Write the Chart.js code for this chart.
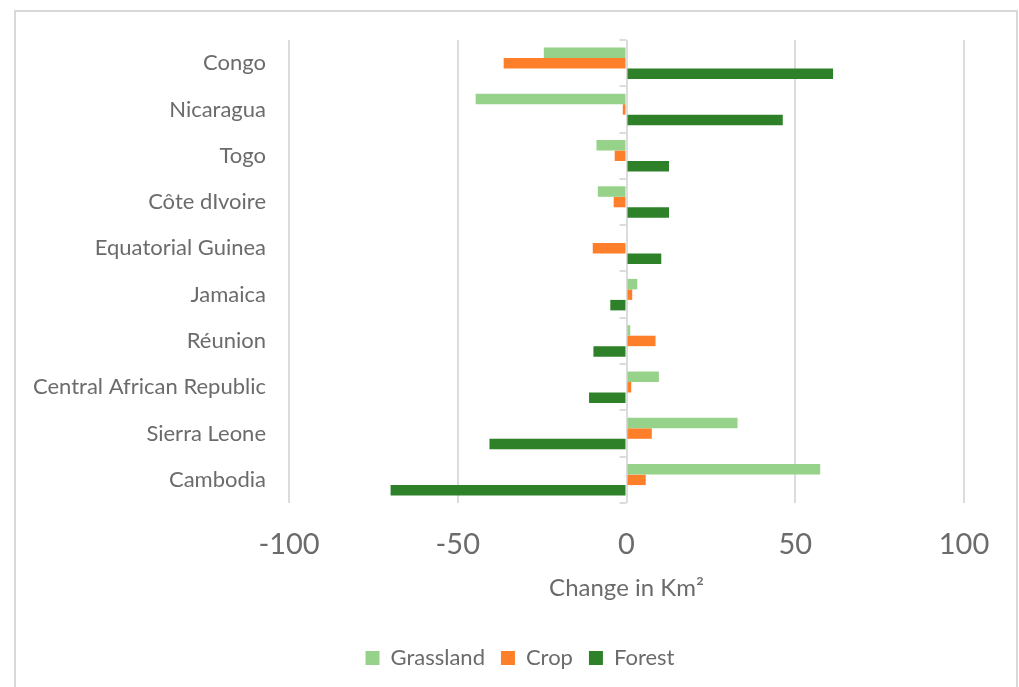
<!DOCTYPE html>
<html>
<head>
<meta charset="utf-8">
<script src="https://cdn.jsdelivr.net/npm/chart.js@4/dist/chart.umd.min.js"></script>
<style>
  html, body { margin: 0; padding: 0; background: #ffffff; }
  #wrap { width: 1019px; height: 687px; position: relative; }
</style>
</head>
<body>
<div id="wrap"><canvas id="chart"></canvas></div>
<script>
// Land cover change per country (km²)
const countries = ['Congo', 'Nicaragua', 'Togo', 'Côte dIvoire', 'Equatorial Guinea',
  'Jamaica', 'Réunion', 'Central African Republic', 'Sierra Leone', 'Cambodia'];
const grassland = [-24.5, -44.7, -8.9, -8.5, 0, 3.2, 1.1, 9.6, 32.9, 57.4];
const crop      = [-36.4, -1.1, -3.5, -3.8, -10.0, 1.7, 8.6, 1.4, 7.5, 5.7];
const forest    = [61.2, 46.3, 12.6, 12.6, 10.3, -4.8, -9.8, -11.1, -40.6, -69.9];
const xTicks    = [-100, -50, 0, 50, 100];

const TEXT = '#6b6b6b';
const GRID = '#dcdcdc';
const FONT = 'Lato, "Liberation Sans", sans-serif';

// White page with a thin grey frame around the chart
const framePlugin = {
  id: 'frame',
  beforeDraw(chart) {
    const ctx = chart.ctx;
    ctx.save();
    ctx.fillStyle = '#ffffff';
    ctx.fillRect(0, 0, chart.width, chart.height);
    ctx.strokeStyle = '#d9d9d9';
    ctx.lineWidth = 2;
    ctx.strokeRect(15, 11, chart.width - 17, chart.height + 20);
    ctx.restore();
  }
};

// Center the legend under the whole frame rather than under the padded area
const legendSpanPlugin = {
  id: 'legendSpan',
  afterLayout(chart) {
    const lg = chart.legend;
    if (!lg) return;
    lg.left = 21;
    lg.right = chart.width;
    lg.width = lg.right - lg.left;
  }
};

// Short tick marks on the zero line between the country bands
const zeroTicksPlugin = {
  id: 'zeroTicks',
  beforeDatasetsDraw(chart) {
    const x = chart.scales.x, y = chart.scales.y;
    const x0 = x.getPixelForValue(0);
    const n = countries.length;
    const band = (y.getPixelForValue(n - 1) - y.getPixelForValue(0)) / (n - 1);
    const ctx = chart.ctx;
    ctx.save();
    ctx.strokeStyle = GRID;
    ctx.lineWidth = 2;
    ctx.beginPath();
    for (let i = 0; i <= n; i++) {
      const py = Math.round(y.getPixelForValue(0) - band / 2 + i * band);
      ctx.moveTo(x0 - 7, py);
      ctx.lineTo(x0, py);
    }
    ctx.stroke();
    ctx.restore();
  }
};

new Chart(document.getElementById('chart'), {
  type: 'bar',
  data: {
    labels: countries,
    datasets: [
      { label: 'Grassland', data: grassland, backgroundColor: '#97d28b' },
      { label: 'Crop', data: crop, backgroundColor: '#fe7f2a' },
      { label: 'Forest', data: forest, backgroundColor: '#2e8129' }
    ]
  },
  options: {
    indexAxis: 'y',
    responsive: true,
    maintainAspectRatio: false,
    animation: false,
    categoryPercentage: 0.68,
    barPercentage: 1.0,
    layout: { padding: { top: 40, right: 55, left: 0, bottom: 8 } },
    scales: {
      x: {
        min: -100,
        max: 100,
        afterBuildTicks(scale) { scale.ticks = xTicks.map(v => ({ value: v })); },
        afterFit(scale) { scale.height = 128; },
        grid: { color: GRID, lineWidth: 2, drawTicks: false },
        border: { display: false },
        ticks: { color: TEXT, font: { family: FONT, size: 29 }, padding: 24 },
        title: {
          display: true,
          text: 'Change in Km²',
          color: TEXT,
          font: { family: FONT, size: 24 },
          padding: { top: 28.5, bottom: 28.5 }
        }
      },
      y: {
        afterFit(scale) { scale.width = 289; },
        grid: { display: false, drawTicks: false },
        border: { display: false },
        ticks: { color: TEXT, font: { family: FONT, size: 22 }, padding: 23 }
      }
    },
    plugins: {
      legend: {
        position: 'bottom',
        labels: {
          color: TEXT,
          font: { family: FONT, size: 22 },
          boxWidth: 14,
          boxHeight: 14,
          padding: 16
        }
      },
      tooltip: { enabled: false }
    }
  },
  plugins: [framePlugin, legendSpanPlugin, zeroTicksPlugin]
});
</script>
</body>
</html>
